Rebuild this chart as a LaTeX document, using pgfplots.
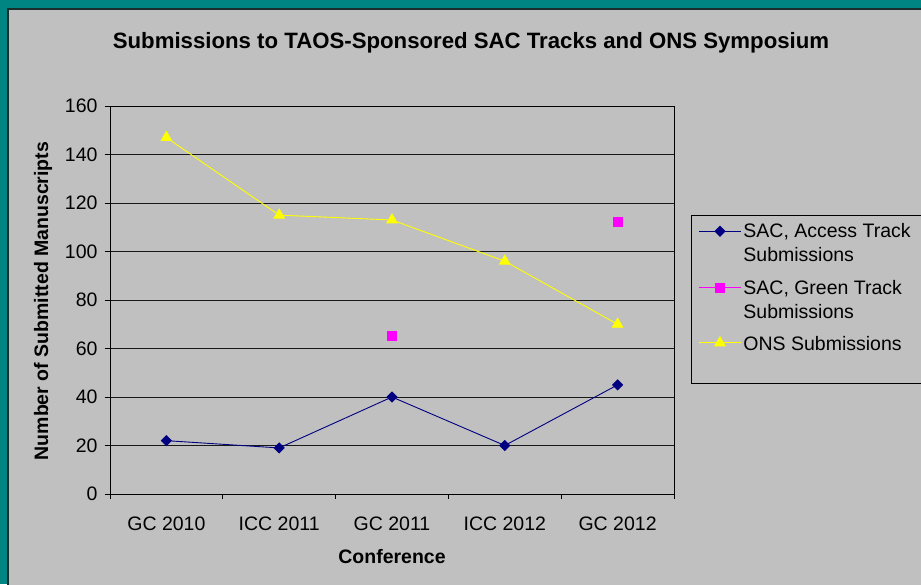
\documentclass[border=0pt]{standalone}
\usepackage{pgfplots}
\pgfplotsset{compat=1.18}
\usepackage{fontspec}
\setmainfont{Liberation Sans}
\definecolor{teal0}{RGB}{0,133,130}
\definecolor{edge}{RGB}{25,45,45}
\definecolor{chartgray}{RGB}{192,192,192}
\definecolor{navy0}{RGB}{0,0,128}
\definecolor{mag0}{RGB}{255,0,255}
\definecolor{yel0}{RGB}{255,255,0}
\begin{document}
\begin{tikzpicture}[x=1pt,y=1pt]
\useasboundingbox (0,0) rectangle (921,-584);
\fill[teal0] (0,0) rectangle (921,-584);
\fill[chartgray] (8,-9) rectangle (930,-600);
\draw[edge,line width=1.6pt] (8,-600) -- (8,-9) -- (930,-9);
\node[font=\fontsize{22.2}{26}\selectfont\bfseries] at (471,-43) {Submissions to TAOS-Sponsored SAC Tracks and ONS Symposium};
\node[font=\fontsize{19.5}{23}\selectfont\bfseries,rotate=90] at (43,-301) {Number of Submitted Manuscripts};
\node[font=\fontsize{19.5}{23}\selectfont\bfseries] at (392,-557) {Conference};
\draw[black,line width=1pt] (691,-215) rectangle (940,-383);
\begin{axis}[
  at={(110pt,-494pt)}, anchor=south west,
  scale only axis, width=564pt, height=388pt,
  xmin=-0.5, xmax=4.5, ymin=0, ymax=160,
  ytick={0,20,...,160},
  xtick={-0.5,0.5,1.5,2.5,3.5,4.5},
  xticklabels={},
  extra x ticks={0,1,2,3,4},
  extra x tick labels={GC 2010,ICC 2011,GC 2011,ICC 2012,GC 2012},
  extra x tick style={major tick length=0pt, grid=none},
  tick align=outside, major tick length=5pt,
  xtick pos=bottom, ytick pos=left,
  tick style={black, line width=0.9pt},
  ymajorgrids, grid style={black!90, line width=0.9pt},
  axis line style={black, line width=1pt},
  ticklabel style={font=\fontsize{19.5}{23}\selectfont},
  /pgf/number format/assume math mode=true,
  yticklabel style={xshift=-4pt},
  xticklabel style={yshift=-19pt},
  legend image code/.code={\draw[mark repeat=2,mark phase=2,#1] plot coordinates {(0pt,0pt) (21pt,0pt) (42pt,0pt)};},
  legend style={draw=none, fill=none, at={(1.0431,0.709)}, anchor=north west,
     inner sep=0pt, row sep=10pt, font=\fontsize{19.5}{24}\selectfont,
     cells={anchor=west}},
  unbounded coords=jump,
]
\addplot[navy0, line width=0.9pt, mark=square*, mark size=3.5pt, mark options={rotate=45, fill=navy0}, legend image post style={yshift=11pt}]
  coordinates {(0,22) (1,19) (2,40) (3,20) (4,45)};
\addlegendentry{\begin{tabular}[b]{@{}l@{}}SAC, Access Track\\Submissions\end{tabular}}
\addplot[mag0, line width=0.9pt, mark=square*, mark size=4.5pt, mark options={fill=mag0}, legend image post style={yshift=11pt}]
  coordinates {(0,nan) (1,nan) (2,65) (3,nan) (4,112)};
\addlegendentry{\begin{tabular}[b]{@{}l@{}}SAC, Green Track\\Submissions\end{tabular}}
\addplot[yel0, line width=0.9pt, mark=triangle*, mark size=6pt, mark options={fill=yel0}]
  coordinates {(0,147) (1,115) (2,113) (3,96) (4,70)};
\addlegendentry{\strut ONS Submissions}
\end{axis}
\end{tikzpicture}
\end{document}
